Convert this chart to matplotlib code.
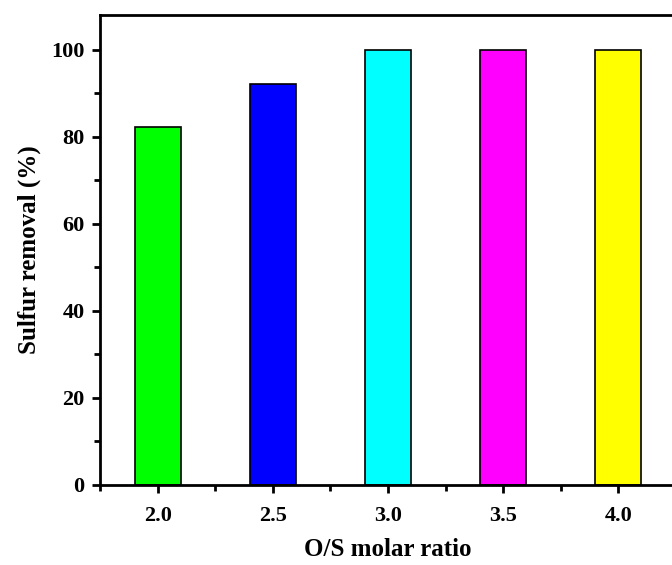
import matplotlib
matplotlib.use('Agg')
import matplotlib.pyplot as plt
from matplotlib.ticker import MultipleLocator

# O/S molar ratio vs sulfur removal
ratios = [2.0, 2.5, 3.0, 3.5, 4.0]
removal = [82.3, 92.2, 100.0, 100.0, 100.0]
colors = ['#00FF00', '#0000FF', '#00FFFF', '#FF00FF', '#FFFF00']

plt.rcParams['font.family'] = ['Liberation Serif', 'DejaVu Serif']
plt.rcParams['font.weight'] = 'bold'

fig = plt.figure(figsize=(6.72, 5.65), dpi=100)
ax = fig.add_axes([0.1488, 0.1416, 0.857, 0.832])

ax.bar(ratios, removal, width=0.2, color=colors, edgecolor='black', linewidth=1.2)

ax.set_xlim(1.75, 4.25)
ax.set_ylim(0, 108)
ax.set_xticks(ratios)
ax.set_xticklabels(['%.1f' % r for r in ratios])
ax.xaxis.set_minor_locator(MultipleLocator(0.25))
ax.set_yticks([0, 20, 40, 60, 80, 100])
ax.yaxis.set_minor_locator(MultipleLocator(10))

for s in ax.spines.values():
    s.set_linewidth(2)
ax.tick_params(which='major', direction='out', length=6, width=2, labelsize=16)
ax.tick_params(axis='x', which='major', pad=9)
ax.tick_params(axis='y', which='major', pad=5)
ax.tick_params(which='minor', direction='out', length=4, width=2)
for lab in ax.get_xticklabels() + ax.get_yticklabels():
    lab.set_fontweight('bold')

ax.set_xlabel('O/S molar ratio', fontsize=18, fontweight='bold')
ax.set_ylabel('Sulfur removal (%)', fontsize=18, fontweight='bold')
ax.xaxis.set_label_coords(0.5, -0.112)
ax.yaxis.set_label_coords(-0.103, 0.5)

fig.savefig('out.png', dpi=100)
